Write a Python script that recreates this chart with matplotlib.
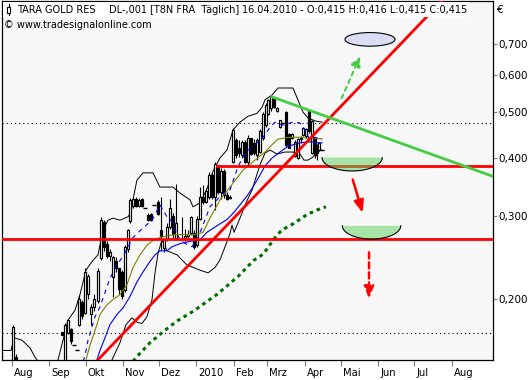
import numpy as np
import matplotlib
matplotlib.use('Agg')
import matplotlib.pyplot as plt
from matplotlib.patches import Rectangle, Polygon
import matplotlib.transforms as mtransforms
from matplotlib.ticker import FixedLocator, NullLocator, FixedFormatter

plt.rcParams['font.family'] = ['DejaVu Sans']
plt.rcParams['lines.scale_dashes'] = False

# ---------------- data (x = days counted from 1 Aug 2009) ----------------
month_days = [0, 31, 61, 92, 122, 153, 184, 212, 243, 273, 304, 334, 365]
month_labels = ['Aug', 'Sep', 'Okt', 'Nov', 'Dez', '2010', 'Feb', 'Mrz', 'Apr',
                'Mai', 'Jun', 'Jul', 'Aug']
price_ticks = [0.2, 0.3, 0.4, 0.5, 0.6, 0.7]
price_tick_labels = ['0,200', '0,300', '0,400', '0,500', '0,600', '0,700']

candle_day = [-7.5, -5.0, -2.5, 0.8, 3.3, 6.6, 10.0, 13.3, 16.6, 19.9,
              23.2, 26.6, 29.9, 33.2, 36.5, 39.0, 41.5, 44.0, 46.5, 49.0,
              51.5, 53.9, 55.6, 58.1, 60.6, 63.1, 65.6, 68.1, 71.4, 73.9,
              76.4, 78.8, 81.3, 83.8, 86.3, 88.8, 91.3, 93.8, 96.3, 97.9,
              100.4, 102.9, 105.4, 107.9, 110.4, 112.9, 115.4, 117.8, 121.2, 123.7,
              126.2, 128.7, 131.1, 133.6, 136.1, 138.6, 141.1, 143.6, 146.1, 148.5,
              151.0, 153.5, 156.0, 158.5, 161.0, 163.5, 166.0, 168.5, 171.0, 173.4,
              175.9, 178.4, 180.9, 183.4, 185.9, 188.4, 190.9, 193.4, 195.9, 198.3,
              200.8, 203.3, 205.8, 208.3, 210.8, 212.4, 214.9, 217.4, 219.9, 222.4,
              224.9, 227.4, 229.9, 232.4, 234.9, 237.3, 239.8, 241.5, 244.0, 246.5,
              249.0, 251.5, 253.1, 254.8, 257.3]
candle_open = [0.140, 0.138, 0.141, 0.140, 0.150, 0.140, 0.137, 0.139, 0.135, 0.137,
               0.134, 0.136, 0.133, 0.135, 0.138, 0.141, 0.170, 0.145, 0.169, 0.172,
               0.159, 0.155, 0.176, 0.197, 0.186, 0.205, 0.185, 0.192, 0.198, 0.244,
               0.292, 0.262, 0.246, 0.222, 0.240, 0.232, 0.228, 0.209, 0.255, 0.293,
               0.316, 0.327, 0.316, 0.326, 0.312, 0.302, 0.303, 0.317, 0.322, 0.280,
               0.256, 0.268, 0.285, 0.300, 0.270, 0.268, 0.268, 0.270, 0.272, 0.276,
               0.276, 0.260, 0.296, 0.330, 0.322, 0.330, 0.368, 0.330, 0.385, 0.338,
               0.375, 0.332, 0.330, 0.392, 0.436, 0.420, 0.405, 0.432, 0.392, 0.440,
               0.430, 0.405, 0.412, 0.440, 0.470, 0.495, 0.510, 0.534, 0.502, 0.465,
               0.473, 0.500, 0.450, 0.440, 0.404, 0.400, 0.438, 0.447, 0.445, 0.505,
               0.410, 0.440, 0.425, 0.415, 0.415]
candle_high = [0.143, 0.142, 0.145, 0.176, 0.152, 0.143, 0.141, 0.142, 0.139, 0.140,
               0.138, 0.139, 0.137, 0.140, 0.143, 0.146, 0.170, 0.177, 0.181, 0.173,
               0.159, 0.155, 0.204, 0.199, 0.232, 0.226, 0.195, 0.205, 0.232, 0.298,
               0.294, 0.265, 0.255, 0.246, 0.245, 0.233, 0.230, 0.260, 0.282, 0.328,
               0.328, 0.329, 0.328, 0.328, 0.312, 0.305, 0.304, 0.317, 0.324, 0.330,
               0.268, 0.290, 0.327, 0.305, 0.352, 0.268, 0.299, 0.282, 0.280, 0.300,
               0.280, 0.300, 0.346, 0.350, 0.345, 0.372, 0.370, 0.391, 0.386, 0.380,
               0.378, 0.338, 0.332, 0.462, 0.440, 0.436, 0.436, 0.436, 0.447, 0.441,
               0.438, 0.440, 0.460, 0.500, 0.523, 0.534, 0.545, 0.536, 0.512, 0.482,
               0.473, 0.502, 0.452, 0.452, 0.436, 0.441, 0.445, 0.464, 0.462, 0.508,
               0.481, 0.442, 0.428, 0.432, 0.416]
candle_low = [0.136, 0.135, 0.138, 0.139, 0.138, 0.135, 0.133, 0.134, 0.131, 0.132,
              0.130, 0.132, 0.130, 0.133, 0.136, 0.139, 0.167, 0.144, 0.168, 0.160,
              0.159, 0.155, 0.175, 0.181, 0.185, 0.200, 0.176, 0.188, 0.196, 0.242,
              0.253, 0.244, 0.240, 0.202, 0.228, 0.205, 0.200, 0.207, 0.252, 0.290,
              0.312, 0.314, 0.314, 0.314, 0.312, 0.293, 0.293, 0.317, 0.302, 0.253,
              0.252, 0.265, 0.282, 0.270, 0.268, 0.268, 0.265, 0.266, 0.268, 0.274,
              0.255, 0.258, 0.294, 0.318, 0.320, 0.327, 0.327, 0.309, 0.334, 0.327,
              0.328, 0.325, 0.326, 0.390, 0.400, 0.402, 0.400, 0.389, 0.386, 0.405,
              0.405, 0.395, 0.410, 0.436, 0.464, 0.493, 0.502, 0.510, 0.500, 0.462,
              0.473, 0.421, 0.419, 0.438, 0.401, 0.398, 0.430, 0.445, 0.440, 0.452,
              0.408, 0.400, 0.395, 0.413, 0.415]
candle_close = [0.138, 0.141, 0.140, 0.174, 0.140, 0.137, 0.139, 0.135, 0.137, 0.134,
                0.136, 0.133, 0.135, 0.138, 0.141, 0.144, 0.167, 0.176, 0.180, 0.162,
                0.159, 0.155, 0.200, 0.184, 0.228, 0.224, 0.192, 0.200, 0.229, 0.294,
                0.258, 0.246, 0.252, 0.245, 0.232, 0.210, 0.203, 0.258, 0.280, 0.325,
                0.326, 0.315, 0.325, 0.315, 0.312, 0.295, 0.294, 0.317, 0.303, 0.272,
                0.268, 0.285, 0.312, 0.275, 0.290, 0.268, 0.268, 0.272, 0.275, 0.298,
                0.258, 0.296, 0.330, 0.322, 0.340, 0.368, 0.330, 0.388, 0.338, 0.375,
                0.332, 0.327, 0.328, 0.458, 0.405, 0.410, 0.432, 0.392, 0.440, 0.408,
                0.410, 0.435, 0.455, 0.495, 0.518, 0.530, 0.538, 0.512, 0.510, 0.480,
                0.473, 0.425, 0.420, 0.448, 0.432, 0.438, 0.440, 0.462, 0.460, 0.455,
                0.478, 0.405, 0.410, 0.430, 0.415]

bb_upper_day = [-7.5, -0.8, 1.7, 8.3, 14.9, 19.1, 23.2, 31.5, 38.2, 42.3,
                46.5, 52.3, 56.4, 61.4, 66.4, 71.4, 75.5, 79.7, 83.8, 89.6,
                96.3, 98.8, 101.2, 103.7, 108.7, 117.0, 122.8, 133.6, 139.4, 147.7,
                150.2, 156.0, 161.8, 166.8, 172.6, 178.4, 183.4, 189.2, 195.9, 203.3,
                207.5, 210.0, 215.8, 220.8, 233.2, 237.3, 241.5, 245.7, 251.5, 257.3]
bb_upper = [0.155, 0.155, 0.165, 0.163, 0.157, 0.150, 0.145, 0.143, 0.148, 0.163,
            0.180, 0.189, 0.204, 0.230, 0.240, 0.248, 0.280, 0.294, 0.297, 0.294,
            0.299, 0.306, 0.333, 0.358, 0.371, 0.371, 0.346, 0.346, 0.336, 0.325,
            0.314, 0.320, 0.343, 0.374, 0.399, 0.415, 0.458, 0.476, 0.490, 0.497,
            0.512, 0.531, 0.544, 0.563, 0.563, 0.531, 0.500, 0.486, 0.479, 0.476]
bb_lower_day = [60.0, 73.0, 83.0, 89.6, 94.6, 99.6, 103.7, 107.9, 112.0, 116.2,
                118.7, 121.2, 124.5, 128.6, 136.9, 145.2, 156.0, 162.7, 168.5, 172.6,
                176.8, 180.9, 182.6, 184.3, 189.2, 194.2, 199.2, 202.5, 205.8, 210.0,
                214.1, 220.0, 226.6, 233.2, 239.0, 242.3, 245.7, 249.8, 254.0, 257.3]
bb_lower = [0.120, 0.131, 0.148, 0.161, 0.176, 0.182, 0.178, 0.177, 0.183, 0.199,
            0.227, 0.250, 0.267, 0.253, 0.248, 0.236, 0.230, 0.227, 0.233, 0.242,
            0.258, 0.275, 0.287, 0.277, 0.297, 0.320, 0.341, 0.363, 0.386, 0.409,
            0.415, 0.407, 0.411, 0.411, 0.407, 0.395, 0.395, 0.401, 0.413, 0.415]
ma_olive_day = [56.4, 61.4, 64.7, 70.5, 73.0, 78.8, 83.8, 89.6, 95.4, 100.4,
                106.2, 112.0, 117.0, 122.8, 128.6, 135.3, 143.6, 153.5, 158.5, 164.3,
                172.6, 180.9, 191.7, 201.7, 210.0, 215.8, 220.8, 230.7, 239.0, 247.3,
                257.3]
ma_olive = [0.138, 0.148, 0.159, 0.176, 0.185, 0.194, 0.199, 0.204, 0.214, 0.233,
            0.248, 0.260, 0.266, 0.270, 0.272, 0.274, 0.274, 0.274, 0.277, 0.297,
            0.325, 0.346, 0.376, 0.395, 0.411, 0.426, 0.438, 0.442, 0.442, 0.439,
            0.439]
ma_blue_day = [66.4, 70.5, 73.0, 77.2, 81.3, 87.1, 92.1, 97.9, 103.7, 108.7,
               114.5, 118.7, 122.8, 128.6, 132.8, 139.4, 147.7, 156.0, 161.8, 170.1,
               178.4, 183.4, 189.2, 195.0, 200.0, 205.8, 210.0, 215.8, 222.4, 228.2,
               233.2, 239.0, 244.8, 249.8, 254.0, 257.3]
ma_blue = [0.138, 0.148, 0.155, 0.165, 0.176, 0.185, 0.191, 0.202, 0.217, 0.228,
           0.240, 0.248, 0.253, 0.253, 0.258, 0.262, 0.265, 0.267, 0.277, 0.286,
           0.295, 0.304, 0.317, 0.331, 0.346, 0.367, 0.384, 0.399, 0.411, 0.421,
           0.426, 0.430, 0.432, 0.432, 0.430, 0.430]
ma_fast_day = [56.4, 60.6, 63.1, 68.9, 73.0, 81.3, 87.1, 92.9, 100.4, 108.7,
               116.2, 122.8, 128.6, 132.8, 139.4, 145.2, 149.4, 154.4, 158.5, 164.3,
               170.1, 175.1, 180.9, 187.5, 191.7, 195.9, 201.7, 208.3, 214.1, 218.3,
               224.1, 233.2, 239.0, 243.2, 247.3, 251.5, 257.3]
ma_fast = [0.141, 0.151, 0.163, 0.183, 0.192, 0.221, 0.236, 0.248, 0.270, 0.283,
           0.294, 0.317, 0.299, 0.292, 0.267, 0.261, 0.258, 0.270, 0.287, 0.314,
           0.325, 0.336, 0.341, 0.382, 0.401, 0.415, 0.426, 0.442, 0.464, 0.476,
           0.469, 0.476, 0.474, 0.458, 0.436, 0.442, 0.436]
ma_long_day = [100.4, 104.3, 114.5, 125.6, 136.7, 150.5, 161.6, 169.9, 179.5, 189.2,
               200.3, 208.6, 216.9, 223.8, 233.5, 244.6, 252.9, 260.6]
ma_long = [0.147, 0.151, 0.161, 0.170, 0.179, 0.188, 0.197, 0.204, 0.214, 0.225,
           0.241, 0.249, 0.267, 0.280, 0.289, 0.302, 0.309, 0.314]

resistance_level = 0.384
resistance_start_day = 170.1
support_level = 0.268
dotted_levels = [0.473, 0.169]
uptrend_day = [68.0, 360.0]
uptrend_val = [0.145, 0.881]
downtrend_day = [215.8, 400.0]
downtrend_val = [0.539, 0.364]

# annotations (day, price)
green_arrow_from = (273.5, 0.535)
green_arrow_to = (288.8, 0.657)
red_arrow_from = (282.8, 0.359)
red_arrow_to = (291.0, 0.305)
red_dash_from = (296.3, 0.251)
red_dash_to = (296.3, 0.200)
ellipse_center = (297.1, 0.715)
ellipse_half_days = 20.75
ellipse_ratio = 1.034
bowl_centers = [282.3, 298.4]
bowl_half_days = [25.0, 24.2]
bowl_top = [0.400, 0.286]
bowl_bottom = [0.3745, 0.268]

# ---------------- figure ----------------
fig = plt.figure(figsize=(5.31, 3.80), dpi=100)
fig.patch.set_facecolor('white')
ax = fig.add_axes([2 / 531, 20 / 380, 491 / 531, 359 / 380])
ax.set_facecolor('#f7f7f7')
ax.set_yscale('log')
ax.set_xlim(-8.3, 399.2)
ax.set_ylim(0.1479, 0.8634)
for s in ax.spines.values():
    s.set_color('black')
    s.set_linewidth(0.9)

# dotted levels
for lv in dotted_levels:
    ax.axhline(lv, color='black', lw=0.8, dashes=(0.8, 2.2), zorder=1)

# Bollinger bands
ax.plot(bb_upper_day, bb_upper, color='black', lw=0.7, zorder=2)
ax.plot(bb_lower_day, bb_lower, color='black', lw=0.7, zorder=2)

# candles
w = 2.2
for d, o, h, l, c in zip(candle_day, candle_open, candle_high, candle_low, candle_close):
    ax.plot([d, d], [l, h], color='black', lw=0.8, zorder=3, solid_capstyle='butt')
    if abs(c - o) < 1e-9:
        ax.plot([d - w / 2 - 0.6, d + w / 2 + 0.6], [c, c], color='black', lw=1.0,
                zorder=4, solid_capstyle='butt')
    else:
        fc = 'white' if c > o else 'black'
        ax.add_patch(Rectangle((d - w / 2, min(o, c)), w, abs(c - o), facecolor=fc,
                               edgecolor='black', lw=0.85, zorder=4))

# moving averages
ax.plot(ma_olive_day, ma_olive, color='#808000', lw=0.8, zorder=5)
ax.plot(ma_blue_day, ma_blue, color='#0000ee', lw=0.8, zorder=5)
ax.plot(ma_fast_day, ma_fast, color='#0000ee', lw=0.8, dashes=(3.2, 3.2), zorder=5)
ax.plot(ma_long_day, ma_long, color='#007000', lw=2.2, dashes=(2.6, 2.8), zorder=5,
        solid_capstyle='butt', dash_capstyle='butt')

# trend / support lines
ax.plot(uptrend_day, uptrend_val, color='#ff0000', lw=2.0, zorder=6)
ax.plot([resistance_start_day, 400], [resistance_level] * 2, color='#ff0000', lw=2.0, zorder=6)
ax.plot([-10, 400], [support_level] * 2, color='#ff0000', lw=2.0, zorder=6)
ax.plot(downtrend_day, downtrend_val, color='#44cc44', lw=2.0, zorder=6)

# bowls
for cx, a, vt, vb in zip(bowl_centers, bowl_half_days, bowl_top, bowl_bottom):
    t = np.linspace(np.pi, 2 * np.pi, 80)
    b = np.log(vt) - np.log(vb)
    xs = cx + a * np.cos(t)
    ys = np.exp(np.log(vt) + b * np.sin(t))
    ax.add_patch(Polygon(np.column_stack([xs, ys]), closed=True, facecolor='#59d159',
                         alpha=0.5, edgecolor='none', zorder=7))
    ax.plot(xs, ys, color='black', lw=0.8, zorder=8)

# ellipse
t = np.linspace(0, 2 * np.pi, 120)
ex = ellipse_center[0] + ellipse_half_days * np.cos(t)
ey = ellipse_center[1] * np.exp(np.log(ellipse_ratio) * np.sin(t))
ax.add_patch(Polygon(np.column_stack([ex, ey]), closed=True, facecolor='#dcdcf4',
                     edgecolor='black', lw=0.8, zorder=7))

# arrows
ax.annotate('', xy=green_arrow_to, xytext=green_arrow_from,
            arrowprops=dict(arrowstyle='-|>,head_length=0.6,head_width=0.3',
                            color='#44cc44', lw=1.4, linestyle=(0, (3.0, 3.0)),
                            mutation_scale=10, shrinkA=0, shrinkB=0), zorder=8)
ax.annotate('', xy=red_arrow_to, xytext=red_arrow_from,
            arrowprops=dict(arrowstyle='-|>,head_length=0.72,head_width=0.29',
                            color='#ff0000', lw=1.8, mutation_scale=10,
                            shrinkA=0, shrinkB=0), zorder=8)
ax.annotate('', xy=red_dash_to, xytext=red_dash_from,
            arrowprops=dict(arrowstyle='-|>,head_length=0.72,head_width=0.29',
                            color='#ff0000', lw=1.8, linestyle=(0, (4.3, 2.9)),
                            mutation_scale=10, shrinkA=0, shrinkB=0), zorder=8)

# y axis (right)
ax.yaxis.set_major_locator(FixedLocator(price_ticks))
ax.yaxis.set_minor_locator(NullLocator())
ax.yaxis.set_major_formatter(FixedFormatter(price_tick_labels))
ax.yaxis.set_minor_formatter(FixedFormatter([]))
ax.yaxis.tick_right()
ax.tick_params(axis='y', which='major', direction='out', length=3, width=0.8,
               color='#808080', pad=1, labelsize=7.5, labelcolor='black')
ax.tick_params(axis='y', which='minor', length=0)

# x axis
ax.set_xticks(month_days)
ax.set_xticklabels([])
ax.tick_params(axis='x', direction='out', length=4, width=0.8, color='#808080')
trans = mtransforms.blended_transform_factory(ax.transData, ax.transAxes)
trans = mtransforms.offset_copy(trans, fig=fig, x=2, y=0, units='dots')
for d, lab in zip(month_days, month_labels):
    ax.text(d, -0.022, lab, transform=trans, ha='left', va='top', fontsize=7.2)

# header texts
ax.add_patch(Rectangle((0.002, 0.9554), 0.951, 0.0418, transform=ax.transAxes,
                       facecolor='white', edgecolor='none', zorder=9))
ax.plot([6.5 / 491, 6.5 / 491], [(360 - 4) / 359, (360 - 15) / 359], transform=ax.transAxes,
        color='black', lw=0.8, zorder=10)
ax.add_patch(Rectangle((4.5 / 491, (360 - 13) / 359), 4 / 491, 6 / 359, transform=ax.transAxes,
                       facecolor='white', edgecolor='black', lw=0.8, zorder=11))
hy = 0.9749
for px, txt in [(17, 'TARA GOLD RES'), (109, 'DL-,001'), (150, '[T8N FRA  Täglich]'),
                (242, '16.04.2010 - O:0,415 H:0,416 L:0,415 C:0,415')]:
    ax.text((px - 2) / 491, hy, txt, transform=ax.transAxes, ha='left', va='center',
            fontsize=7.0, zorder=12)
ax.text(0.004, 0.9331, '© www.tradesignalonline.com', transform=ax.transAxes,
        ha='left', va='center', fontsize=7.0, zorder=12)
ax.text(1.0081, 0.9749, '€', transform=ax.transAxes, ha='left', va='center', fontsize=7.5)

fig.savefig('out.png', dpi=100, facecolor='white')
